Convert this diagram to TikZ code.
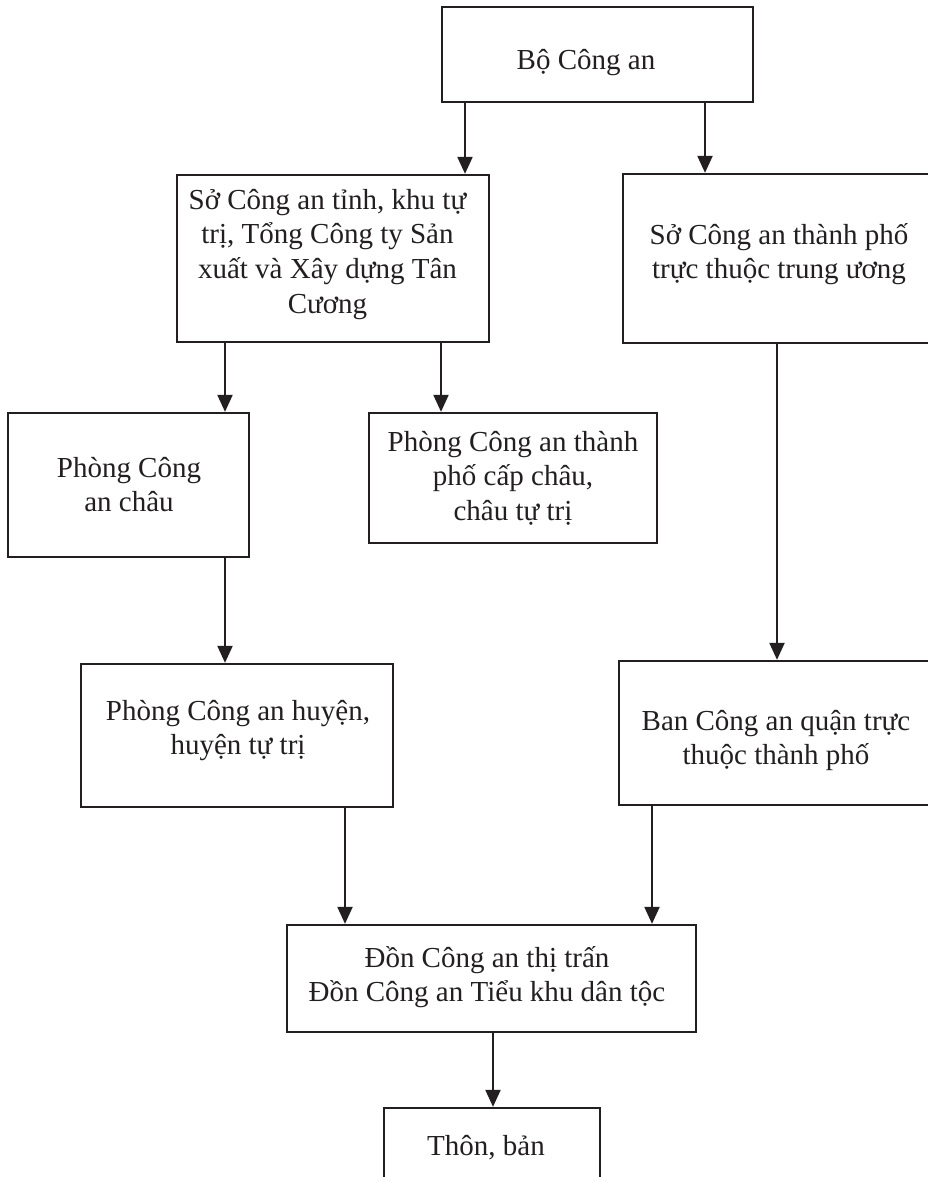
\documentclass[tikz,border=0pt]{standalone}
\usepackage{fontspec}
\setmainfont{Liberation Serif}
\usetikzlibrary{arrows.meta}
\definecolor{ink}{RGB}{35,31,32}
% centred block of lines whose reference point is the first baseline
\newcommand\textlines[1]{\parbox[t]{440pt}{\centering #1}}
\tikzset{
  box/.style={draw=ink, line width=2.3pt, inner sep=0pt},
  caption/.style={anchor=base, inner sep=0pt, text=ink,
    font=\fontsize{29}{34.8}\selectfont},
  link/.style={draw=ink, line width=2.1pt,
    -{Triangle[length=17pt, width=15pt]}}
}
\begin{document}
\begin{tikzpicture}[x=1pt, y=-1pt]
  \useasboundingbox (0,0) rectangle (928,1177);
  \fill[white] (0,0) rectangle (928,1177);
  \clip (0,0) rectangle (928,1177);

  % boxes
  \node[box, minimum width=311pt, minimum height=95pt]  (bo)     at (597.5,54.5) {};
  \node[box, minimum width=312pt, minimum height=167pt] (sotinh) at (333,258.5) {};
  \node[box, minimum width=312pt, minimum height=169pt] (sotp)   at (779,258.5) {};
  \node[box, minimum width=241pt, minimum height=144pt] (chau)   at (128.5,485) {};
  \node[box, minimum width=288pt, minimum height=130pt] (tpchau) at (513,478) {};
  \node[box, minimum width=312pt, minimum height=143pt] (huyen)  at (237,735.5) {};
  \node[box, minimum width=314pt, minimum height=144pt] (ban)    at (776,733) {};
  \node[box, minimum width=409pt, minimum height=107pt] (don)    at (491.5,978.5) {};
  \node[box, minimum width=216pt, minimum height=102pt] (thon)   at (492,1159) {};

  % box texts
  \node[caption] (tbo)     at (586,70)    {Bộ Công an};
  \node[caption] (tsotinh) at (327.5,209) {\textlines{Sở Công an tỉnh, khu tự\\trị, Tổng Công ty Sản\\xuất và Xây dựng Tân\\Cương}};
  \node[caption] (tsotp)   at (779,244)   {\textlines{Sở Công an thành phố\\trực thuộc trung ương}};
  \node[caption] (tchau)   at (129,477)   {\textlines{Phòng Công\\an châu}};
  \node[caption] (ttpchau) at (513,451)   {\textlines{Phòng Công an thành\\phố cấp châu,\\châu tự trị}};
  \node[caption] (thuyen)  at (238,720)   {\textlines{Phòng Công an huyện,\\huyện tự trị}};
  \node[caption] (tban)    at (776,730)   {\textlines{Ban Công an quận trực\\thuộc thành phố}};
  \node[caption] (tdon)    at (487,967)   {\textlines{Đồn Công an thị trấn\\Đồn Công an Tiểu khu dân tộc}};
  \node[caption] (tthon)   at (486,1155)  {Thôn, bản};

  % vertical positions of the connectors
  \coordinate (xa) at (465,0);
  \coordinate (xb) at (705,0);
  \coordinate (xc) at (225,0);
  \coordinate (xd) at (441,0);
  \coordinate (xe) at (777,0);
  \coordinate (xf) at (345,0);
  \coordinate (xg) at (652,0);
  \coordinate (xh) at (493,0);

  % connectors
  \draw[link] (bo.south -| xa)     -- (sotinh.north -| xa);
  \draw[link] (bo.south -| xb)     -- (sotp.north -| xb);
  \draw[link] (sotinh.south -| xc) -- (chau.north -| xc);
  \draw[link] (sotinh.south -| xd) -- (tpchau.north -| xd);
  \draw[link] (sotp.south -| xe)   -- (ban.north -| xe);
  \draw[link] (chau.south -| xc)   -- (huyen.north -| xc);
  \draw[link] (huyen.south -| xf)  -- (don.north -| xf);
  \draw[link] (ban.south -| xg)    -- (don.north -| xg);
  \draw[link] (don.south -| xh)    -- (thon.north -| xh);
\end{tikzpicture}
\end{document}
